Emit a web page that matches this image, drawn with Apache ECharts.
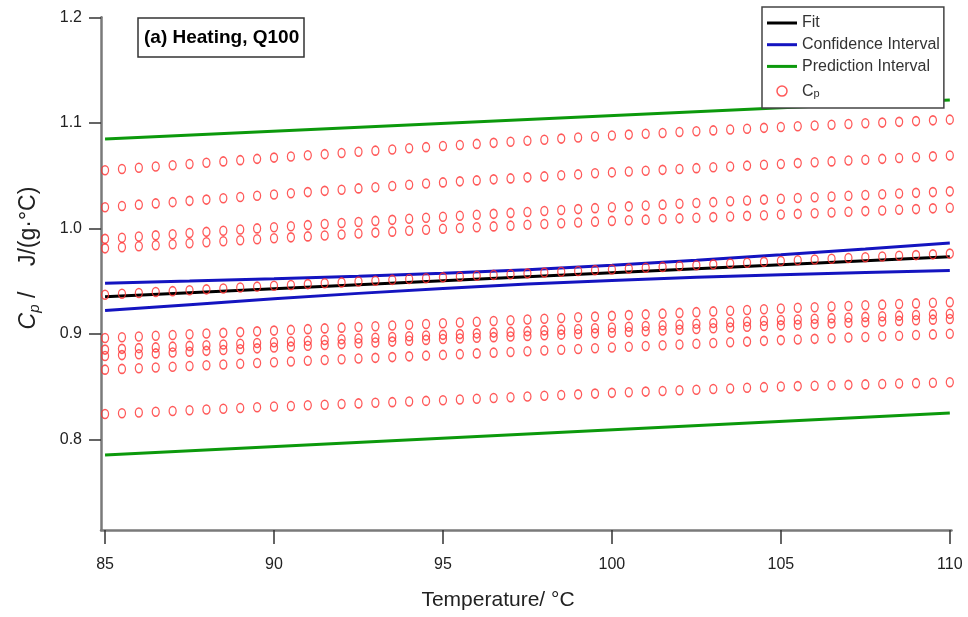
<!DOCTYPE html>
<html>
<head>
<meta charset="utf-8">
<script src="https://cdn.jsdelivr.net/npm/echarts@6/dist/echarts.min.js"></script>
<style>
html,body{margin:0;padding:0;background:#fff;}
#chart{width:968px;height:617px;}
</style>
</head>
<body>
<div id="chart"></div>
<script>
// ---- data ----
var temperatures = [85,85.5,86,86.5,87,87.5,88,88.5,89,89.5,90,90.5,91,91.5,92,92.5,93,93.5,94,94.5,95,95.5,96,96.5,97,97.5,98,98.5,99,99.5,100,100.5,101,101.5,102,102.5,103,103.5,104,104.5,105,105.5,106,106.5,107,107.5,108,108.5,109,109.5,110];

var cpRowA = [1.0550,1.0562,1.0574,1.0586,1.0598,1.0610,1.0622,1.0634,1.0646,1.0658,1.0670,1.0681,1.0692,1.0703,1.0714,1.0725,1.0736,1.0747,1.0758,1.0769,1.0780,1.0790,1.0800,1.0810,1.0820,1.0830,1.0840,1.0850,1.0860,1.0870,1.0880,1.0888,1.0896,1.0904,1.0912,1.0920,1.0928,1.0936,1.0944,1.0952,1.0960,1.0967,1.0974,1.0981,1.0988,1.0995,1.1002,1.1009,1.1016,1.1023,1.1030];
var cpRowB = [1.0200,1.0212,1.0224,1.0236,1.0248,1.0260,1.0272,1.0284,1.0296,1.0308,1.0320,1.0332,1.0343,1.0355,1.0366,1.0378,1.0389,1.0401,1.0412,1.0424,1.0435,1.0445,1.0454,1.0464,1.0473,1.0483,1.0492,1.0502,1.0511,1.0521,1.0530,1.0538,1.0546,1.0554,1.0562,1.0570,1.0578,1.0586,1.0594,1.0602,1.0610,1.0618,1.0626,1.0634,1.0642,1.0650,1.0658,1.0666,1.0674,1.0682,1.0690];
var cpRowC = [0.9900,0.9911,0.9922,0.9933,0.9944,0.9955,0.9966,0.9977,0.9988,0.9999,1.0010,1.0020,1.0030,1.0040,1.0050,1.0060,1.0070,1.0080,1.0090,1.0100,1.0110,1.0119,1.0128,1.0137,1.0146,1.0155,1.0164,1.0173,1.0182,1.0191,1.0200,1.0208,1.0216,1.0224,1.0232,1.0240,1.0248,1.0256,1.0264,1.0272,1.0280,1.0287,1.0294,1.0301,1.0308,1.0315,1.0322,1.0329,1.0336,1.0343,1.0350];
var cpRowD = [0.9810,0.9820,0.9829,0.9839,0.9848,0.9858,0.9867,0.9877,0.9886,0.9896,0.9905,0.9914,0.9923,0.9932,0.9941,0.9950,0.9959,0.9968,0.9977,0.9986,0.9995,1.0003,1.0010,1.0018,1.0025,1.0033,1.0040,1.0048,1.0055,1.0063,1.0070,1.0076,1.0082,1.0088,1.0094,1.0100,1.0106,1.0112,1.0118,1.0124,1.0130,1.0137,1.0143,1.0150,1.0156,1.0163,1.0169,1.0176,1.0182,1.0189,1.0195];
var cpRowE = [0.9370,0.9379,0.9387,0.9396,0.9404,0.9413,0.9421,0.9430,0.9438,0.9447,0.9455,0.9463,0.9471,0.9479,0.9487,0.9495,0.9503,0.9511,0.9519,0.9527,0.9535,0.9543,0.9550,0.9558,0.9565,0.9573,0.9580,0.9588,0.9595,0.9603,0.9610,0.9618,0.9626,0.9634,0.9642,0.9650,0.9658,0.9666,0.9674,0.9682,0.9690,0.9697,0.9704,0.9711,0.9718,0.9725,0.9732,0.9739,0.9746,0.9753,0.9760];
var cpRowF = [0.8960,0.8967,0.8974,0.8981,0.8988,0.8995,0.9002,0.9009,0.9016,0.9023,0.9030,0.9037,0.9044,0.9051,0.9058,0.9065,0.9072,0.9079,0.9086,0.9093,0.9100,0.9107,0.9114,0.9121,0.9128,0.9135,0.9142,0.9149,0.9156,0.9163,0.9170,0.9177,0.9184,0.9191,0.9198,0.9205,0.9212,0.9219,0.9226,0.9233,0.9240,0.9246,0.9252,0.9258,0.9264,0.9270,0.9276,0.9282,0.9288,0.9294,0.9300];
var cpRowG = [0.8850,0.8857,0.8864,0.8871,0.8878,0.8885,0.8892,0.8899,0.8906,0.8913,0.8920,0.8927,0.8934,0.8941,0.8948,0.8955,0.8962,0.8969,0.8976,0.8983,0.8990,0.8997,0.9004,0.9011,0.9018,0.9025,0.9032,0.9039,0.9046,0.9053,0.9060,0.9067,0.9074,0.9081,0.9088,0.9095,0.9102,0.9109,0.9116,0.9123,0.9130,0.9136,0.9142,0.9148,0.9154,0.9160,0.9166,0.9172,0.9178,0.9184,0.9190];
var cpRowH = [0.8790,0.8798,0.8806,0.8814,0.8822,0.8830,0.8838,0.8846,0.8854,0.8862,0.8870,0.8878,0.8886,0.8894,0.8902,0.8910,0.8918,0.8926,0.8934,0.8942,0.8950,0.8956,0.8962,0.8968,0.8974,0.8980,0.8986,0.8992,0.8998,0.9004,0.9010,0.9017,0.9024,0.9031,0.9038,0.9045,0.9052,0.9059,0.9066,0.9073,0.9080,0.9086,0.9092,0.9098,0.9104,0.9110,0.9116,0.9122,0.9128,0.9134,0.9140];
var cpRowI = [0.8660,0.8667,0.8674,0.8681,0.8688,0.8695,0.8702,0.8709,0.8716,0.8723,0.8730,0.8737,0.8744,0.8751,0.8758,0.8765,0.8772,0.8779,0.8786,0.8793,0.8800,0.8807,0.8814,0.8821,0.8828,0.8835,0.8842,0.8849,0.8856,0.8863,0.8870,0.8877,0.8884,0.8891,0.8898,0.8905,0.8912,0.8919,0.8926,0.8933,0.8940,0.8946,0.8952,0.8958,0.8964,0.8970,0.8976,0.8982,0.8988,0.8994,0.9000];
var cpRowJ = [0.8240,0.8247,0.8254,0.8261,0.8268,0.8275,0.8282,0.8289,0.8296,0.8303,0.8310,0.8316,0.8322,0.8328,0.8334,0.8340,0.8346,0.8352,0.8358,0.8364,0.8370,0.8377,0.8384,0.8391,0.8398,0.8405,0.8412,0.8419,0.8426,0.8433,0.8440,0.8446,0.8452,0.8458,0.8464,0.8470,0.8476,0.8482,0.8488,0.8494,0.8500,0.8504,0.8508,0.8512,0.8516,0.8520,0.8524,0.8528,0.8532,0.8536,0.8540];

var lineTemps = [85,87.5,90,92.5,95,97.5,100,102.5,105,107.5,110];
var fitValues = [0.9350,0.9388,0.9426,0.9464,0.9502,0.9540,0.9578,0.9616,0.9654,0.9692,0.9730];
var ciUpper = [0.9480,0.9500,0.9521,0.9545,0.9574,0.9608,0.9650,0.9697,0.9749,0.9804,0.9860];
var ciLower = [0.9220,0.9276,0.9331,0.9383,0.9430,0.9472,0.9506,0.9535,0.9559,0.9580,0.9600];
var piTemps = [85,110];
var piUpper = [1.0846,1.1216];
var piLower = [0.7851,0.8249];

var xTicks = [85,90,95,100,105,110];
var yTicks = [0.8,0.9,1.0,1.1,1.2];

// ---- build ----
function pairs(xs, ys){ return xs.map(function(x,i){ return [x, ys[i]]; }); }

var SANS = "'Liberation Sans',Arial,sans-serif";
var RED = '#ff3030';
var LINE_ICON = 'path://M0,0H30V3H0Z';

function lineSeries(name, xs, ys, color){
  return {type:'line', name:name, data:pairs(xs, ys), symbol:'none', showSymbol:false,
    lineStyle:{color:color, width:3}, itemStyle:{color:color}, silent:true, z:2};
}
function cpSeries(row){
  return {type:'scatter', name:'Cp', data:pairs(temperatures, row), symbol:'circle',
    symbolSize:[7,9], itemStyle:{color:'transparent', borderColor:RED, borderWidth:1.4}, silent:true, z:3};
}

var series = [
  lineSeries('Prediction Interval', piTemps, piUpper, '#0c990c'),
  lineSeries('Prediction Interval', piTemps, piLower, '#0c990c'),
  lineSeries('Confidence Interval', lineTemps, ciUpper, '#1414c0'),
  lineSeries('Confidence Interval', lineTemps, ciLower, '#1414c0'),
  lineSeries('Fit', lineTemps, fitValues, '#000000')
];
[cpRowA,cpRowB,cpRowC,cpRowD,cpRowE,cpRowF,cpRowG,cpRowH,cpRowI,cpRowJ].forEach(function(r){ series.push(cpSeries(r)); });

var chart = echarts.init(document.getElementById('chart'), null, {renderer:'canvas'});
chart.setOption({
  animation:false,
  backgroundColor:'#fff',
  grid:{left:101, right:16.5, top:17.3, bottom:87, containLabel:false},
  title:{
    text:'(a) Heating, Q100', left:138, top:18,
    backgroundColor:'#fff', borderColor:'#333', borderWidth:1.5,
    padding:[9,5,9,6],
    textStyle:{fontFamily:SANS, fontSize:19, fontWeight:'bold', color:'#000', lineHeight:21}
  },
  legend:{
    orient:'vertical', left:762, top:7,
    backgroundColor:'#fff', borderColor:'#444', borderWidth:1.5, borderRadius:0,
    padding:[8,4,9,5], itemWidth:30, itemHeight:10, itemGap:5.7,
    textStyle:{fontFamily:SANS, fontSize:16, color:'#333', lineHeight:16,
      rich:{c:{fontFamily:SANS, fontSize:16, color:'#333', lineHeight:16},
            s:{fontFamily:SANS, fontSize:11, color:'#333', verticalAlign:'bottom', padding:[8,0,0,0], lineHeight:16}}},
    formatter:function(n){ return n==='Cp' ? '{c|C}{s|p}' : n; },
    data:[
      {name:'Fit', icon:LINE_ICON},
      {name:'Confidence Interval', icon:LINE_ICON},
      {name:'Prediction Interval', icon:LINE_ICON},
      {name:'Cp', icon:'circle', itemStyle:{color:'transparent', borderColor:RED, borderWidth:1.5}}
    ],
    selectedMode:false
  },
  xAxis:{
    type:'value', min:84.88, max:110.05,
    axisLine:{show:true, onZero:false, lineStyle:{color:'#7a7a7a', width:2.5}},
    axisTick:{show:true, length:14, customValues:xTicks, lineStyle:{color:'#333', width:1.5}},
    axisLabel:{customValues:xTicks, margin:27, fontFamily:SANS, fontSize:16, color:'#222',
      formatter:function(v){ return String(v); }},
    splitLine:{show:false}
  },
  yAxis:{
    type:'value', min:0.714, max:1.2,
    axisLine:{show:true, onZero:false, lineStyle:{color:'#7a7a7a', width:2.5}},
    axisTick:{show:true, length:12, customValues:yTicks, lineStyle:{color:'#333', width:1.5}},
    axisLabel:{customValues:yTicks, margin:19, fontFamily:SANS, fontSize:16, color:'#222',
      formatter:function(v){ return v.toFixed(1); }},
    splitLine:{show:false}
  },
  graphic:[
    {type:'text', x:498, y:600, style:{text:'Temperature/ °C', font:"21px "+SANS, fill:'#222', align:'center', verticalAlign:'middle'}},
    {type:'text', x:29, y:258, rotation:Math.PI/2, style:{
      text:'{i|C}{s|p}{n| /    J/(g·°C)}', align:'center', verticalAlign:'middle', fill:'#222',
      rich:{
        i:{font:"italic 23px "+SANS, fill:'#222', lineHeight:26},
        s:{font:"italic 15px "+SANS, fill:'#222', verticalAlign:'bottom', padding:[11,0,0,0], lineHeight:26},
        n:{font:"23px "+SANS, fill:'#222', lineHeight:26}
      }}}
  ],
  series:series
});
</script>
</body>
</html>
